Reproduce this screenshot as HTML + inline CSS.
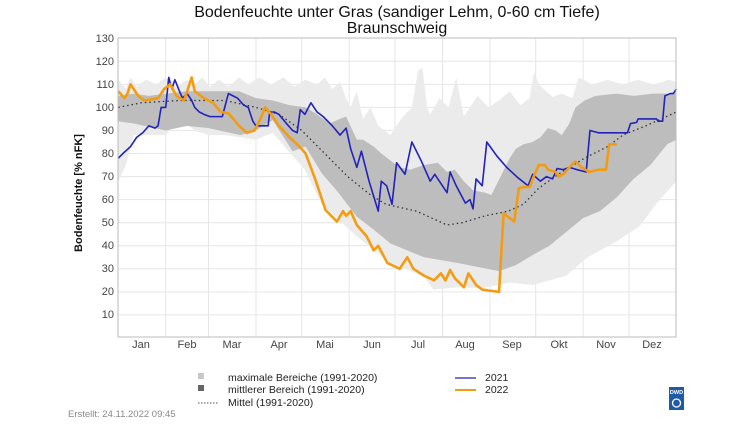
<!DOCTYPE html>
<html><head><meta charset="utf-8"><style>
body{margin:0;background:#fff;width:748px;height:421px;overflow:hidden;font-family:"Liberation Sans",sans-serif}
</style></head><body>
<svg width="748" height="421" xmlns="http://www.w3.org/2000/svg" font-family="Liberation Sans, sans-serif">
<text x="397" y="17" font-size="16" text-anchor="middle" fill="#111">Bodenfeuchte unter Gras (sandiger Lehm, 0-60 cm Tiefe)</text>
<text x="397" y="33" font-size="16" text-anchor="middle" fill="#111">Braunschweig</text>
<g stroke="#e6e6e6" stroke-width="1">
<line x1="118" x2="676" y1="61.3" y2="61.3"/><line x1="118" x2="676" y1="84.4" y2="84.4"/><line x1="118" x2="676" y1="107.4" y2="107.4"/><line x1="118" x2="676" y1="130.5" y2="130.5"/><line x1="118" x2="676" y1="153.5" y2="153.5"/><line x1="118" x2="676" y1="176.6" y2="176.6"/><line x1="118" x2="676" y1="199.6" y2="199.6"/><line x1="118" x2="676" y1="222.7" y2="222.7"/><line x1="118" x2="676" y1="245.8" y2="245.8"/><line x1="118" x2="676" y1="268.8" y2="268.8"/><line x1="118" x2="676" y1="291.9" y2="291.9"/><line x1="118" x2="676" y1="314.9" y2="314.9"/>
<line y1="38" y2="337" x1="165.7" x2="165.7"/><line y1="38" y2="337" x1="208.5" x2="208.5"/><line y1="38" y2="337" x1="256" x2="256"/><line y1="38" y2="337" x1="301.8" x2="301.8"/><line y1="38" y2="337" x1="349.2" x2="349.2"/><line y1="38" y2="337" x1="395" x2="395"/><line y1="38" y2="337" x1="442.5" x2="442.5"/><line y1="38" y2="337" x1="490" x2="490"/><line y1="38" y2="337" x1="535.7" x2="535.7"/><line y1="38" y2="337" x1="583.1" x2="583.1"/><line y1="38" y2="337" x1="629" x2="629"/>
</g>
<g transform="translate(118.3,338) scale(1.529,-2.306)">
<polygon fill="#ebebeb" points="0,112 5,108 8,113 12,109 18,112 25,110 31,113 38,109 45,112 50,110 55,113 60,109 66,112 72,109 79,113 85,110 92,113 100,110 108,113 115,109 122,112 130,110 135,113 140,108 145,111 149,104 152,100 156,107 160,95 165,100 170,92 178,88 185,95 192,100 196,116 199,117 202,100 204,97 210,104 216,100 221,113 226,96 230,100 235,105 242,100 249,103 256,107 263,101 269,104 272,115.5 275,110 284,104.5 290,106 297,104 301,113 310,110 320,112 330,110 340,112 350,110 360,112 365,111 365,68 354,60 341,48.5 326,42 306,34.6 293,27 271,23 256,24 238,21.6 222,22 206,21 200,26.6 178,32.5 156,44 133,58 122,73 110,82 101,89 90,86 70,88 59,88 50,90 40,95 31,88 10,88 5,75 0,68"/>
<polygon fill="#bdbdbd" points="0,105 10,106 20,105 31,106 45,107 59,107 79,107 90,104 101,103 112,101 122.5,100 130,97 138,93 145,95 149,96 156,86 160,86 167,83 172,80 178,77 184,74 191,73 200,75 209,76 215,72 220,73 226,68 232,64 240,63 244,62 250,70 256,78 260,82 265,84 271,85 276,87 281,91 286,90 290,88 295,93 299,100 305,103 312,105 326,106 337,105 350,106 365,106 365,86 359,84 348,75 337,69 326,61 315,55 304,52 293,46 282,40 271,36 260,31.6 249,29 229,31.6 222,32.5 200,35 189,38 178,41 167,47 156,52.6 144,63 133,71.5 122.5,83 114,81 101,94.5 90,90 80,88 59,91 45,92 31,90 10,93 0,94"/>
<polyline fill="none" stroke="#333" stroke-width="1.3" stroke-dasharray="1.5,3" vector-effect="non-scaling-stroke" points="0,100 15,102 40,103 70,103 90,100 105,97 120,90 135,80 150,70 165,62 175,58 195,55 215,49 225,50 240,53 255,55 265,58 275,65 290,72 305,78 320,83 330,88 345,92 365,98"/>
<polyline fill="none" stroke="#2222bb" stroke-width="1.6" vector-effect="non-scaling-stroke" stroke-linejoin="round" points="0,78 3,80 8,83 12,87 16,89 20,92 24,91 26,92 28,100 31,100 33,113 35,108 37,112 40,107 42,104 45,106 48,103 50,100 53,98 56,97 60,96 65,96 68,96 72,106 75,105 78,104 82,101 85,100 88,94 90,92 95,92 98,92 99,98 102,98 105,97 110,93 114,90 117,89 119,99 122,97 126,102 130,98 134,96 140,92 145,88 149,91 152,82 156,74 159,81 164,68 170,55 172,68 175.5,66 179,58 182,76 187.5,71 192,85 198,77 204,68 207,71 209,69 215,63 217,72 221,66 227,58.5 230,60 232,56 234,69 238,66 241,85 247.5,79 254,74 260.5,70 268,66 271,71 276,68 280,70 284,69 287,73.5 291,73 295,74 300,73 306,72 308.5,90 314,89 333,89 335,93 339,93.5 340,95 352,95 353,94 356,94 357.5,105 361,106 363,106 365,108"/>
<polyline fill="none" stroke="#f39c12" stroke-width="2.6" vector-effect="non-scaling-stroke" stroke-linejoin="round" points="0,107 4,104 6,106 8,110 13,105 17,103 26,104 30,108 34,110 38,105 43,103 46,109 48,113 50,107 56,104 62,102 67,98 72,97.5 79,92 84,89 89,90 93,95 96,100 100,97 105,92 112,87 117,84 122.5,80 129,68.5 135.5,55.5 143,50.5 147,55 149,53 152,55 156,49 162.5,44 167,38 170,40 176,32.5 181,31 184,30 189,35 193,30 200,27 206.5,25 211,28 214,25 217,29.5 220,26 226,22 229,28 234,23 238,21 243,20.5 249,20 252,54 254,53 259,50.5 262,65 266,65.5 269,65.5 271,69 275,75 279,75 281,73 286,72 288,70 291,71 295,74 299,76.5 303,74 308,72 314,73 319,73 321,84 326,84"/>
</g>
<rect x="118" y="38" width="558" height="299" fill="none" stroke="#bbb" stroke-width="1"/>
<g font-size="11" fill="#444" text-anchor="end">
<text x="114" y="42">130</text><text x="114" y="65">120</text><text x="114" y="88">110</text><text x="114" y="111">100</text><text x="114" y="134">90</text><text x="114" y="157">80</text><text x="114" y="180">70</text><text x="114" y="203">60</text><text x="114" y="226">50</text><text x="114" y="249">40</text><text x="114" y="272">30</text><text x="114" y="295">20</text><text x="114" y="318">10</text>
</g>
<g font-size="11" fill="#444" text-anchor="middle">
<text x="141" y="348">Jan</text><text x="187" y="348">Feb</text><text x="232" y="348">Mar</text><text x="279" y="348">Apr</text><text x="325" y="348">Mai</text><text x="372" y="348">Jun</text><text x="418" y="348">Jul</text><text x="465" y="348">Aug</text><text x="512" y="348">Sep</text><text x="559" y="348">Okt</text><text x="606" y="348">Nov</text><text x="652" y="348">Dez</text>
</g>
<text transform="translate(82,193) rotate(-90)" font-size="11" font-weight="bold" text-anchor="middle" fill="#111">Bodenfeuchte [% nFK]</text>
<rect x="198" y="373" width="6" height="6" fill="#c8c8c8"/>
<rect x="198" y="385" width="6" height="6" fill="#666"/>
<line x1="198" x2="218" y1="403" y2="403" stroke="#555" stroke-dasharray="1.5,1.5"/>
<g font-size="10.5" fill="#222">
<text x="228" y="381">maximale Bereiche (1991-2020)</text>
<text x="228" y="393">mittlerer Bereich (1991-2020)</text>
<text x="228" y="406">Mittel (1991-2020)</text>
<text x="485" y="381">2021</text>
<text x="485" y="393">2022</text>
</g>
<line x1="455" x2="476" y1="378" y2="378" stroke="#2222bb" stroke-width="1.3"/>
<line x1="455" x2="476" y1="390" y2="390" stroke="#f39c12" stroke-width="2"/>
<text x="68" y="417" font-size="9.5" fill="#888">Erstellt:  24.11.2022 09:45</text>
<rect x="669" y="387" width="15" height="23" fill="#1f5aa6"/>
<text x="676.5" y="394" font-size="5.5" fill="#fff" text-anchor="middle" font-weight="bold">DWD</text>
<circle cx="676.5" cy="403" r="4" fill="none" stroke="#fff" stroke-width="1.3"/>
</svg>
</body></html>
